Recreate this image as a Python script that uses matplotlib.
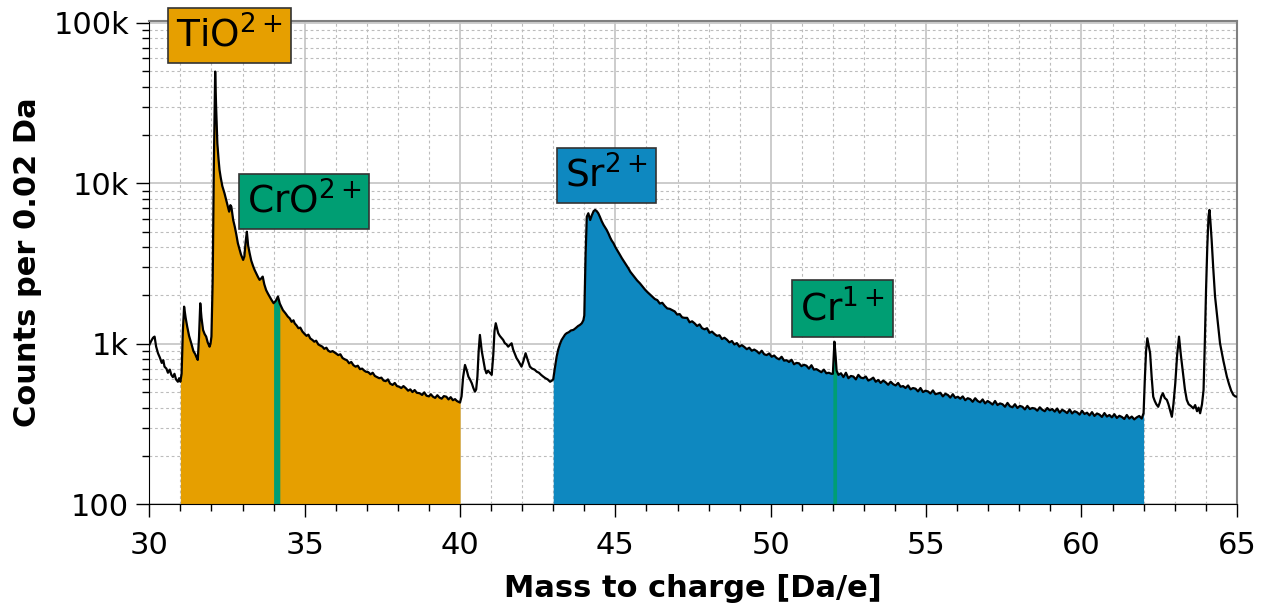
#importar pacotes
import numpy as np
import matplotlib
matplotlib.use('Agg')
import matplotlib.pyplot as plt
from matplotlib.ticker import FixedLocator, MultipleLocator, NullFormatter

#dados lidos do espectro (massa/carga, contagens)
#trecho 30-40 Da (pico TiO2+ e CrO2+)
mz_ti = [30.00, 30.06, 30.12, 30.17, 30.22, 30.28, 30.34, 30.40, 30.45, 30.49,
         30.55, 30.60, 30.66, 30.71, 30.76, 30.81, 30.86, 30.92, 30.96, 31.00,
         31.04, 31.08, 31.12, 31.17, 31.22, 31.28, 31.35, 31.42, 31.48, 31.51,
         31.56, 31.60, 31.64, 31.68, 31.73, 31.78, 31.83, 31.88, 31.94, 31.97,
         32.00, 32.04, 32.08, 32.12, 32.15, 32.19, 32.23, 32.26, 32.30, 32.35,
         32.42, 32.48, 32.53, 32.57, 32.61, 32.64, 32.70, 32.75, 32.80, 32.85,
         32.90, 32.95, 33.02, 33.06, 33.10, 33.14, 33.18, 33.23, 33.28, 33.34,
         33.39, 33.44, 33.50, 33.55, 33.60, 33.65, 33.70, 33.76, 33.82, 33.87,
         33.93, 34.00, 34.07, 34.14, 34.20, 34.25, 34.30, 34.38, 34.46, 34.52,
         34.58, 34.64, 34.68, 34.74, 34.80, 34.86, 34.93, 35.00, 35.06, 35.12,
         35.18, 35.25, 35.31, 35.37, 35.44, 35.50, 35.57, 35.63, 35.70, 35.76,
         35.83, 35.90, 36.00, 36.08, 36.15, 36.22, 36.29, 36.36, 36.43, 36.50,
         36.57, 36.64, 36.71, 36.78, 36.85, 36.92, 36.97, 37.05, 37.12, 37.19,
         37.26, 37.33, 37.40, 37.47, 37.54, 37.61, 37.68, 37.75, 37.83, 37.90,
         37.97, 38.04, 38.11, 38.18, 38.26, 38.33, 38.40, 38.47, 38.54, 38.61,
         38.70, 38.78, 38.85, 38.92, 39.00, 39.06, 39.13, 39.20, 39.27, 39.34,
         39.41, 39.48, 39.56, 39.63, 39.70, 39.77, 39.84, 39.90, 39.94, 40.00]
cts_ti = [983, 1040, 1090, 1108, 960, 873, 820, 760, 790, 720,
          700, 660, 690, 640, 620, 650, 600, 580, 610, 580,
          650, 1200, 1703, 1450, 1278, 1120, 1007, 900, 860, 831,
          793, 1100, 1787, 1450, 1219, 1150, 1108, 1020, 959, 1000,
          1108, 2500, 14000, 49600, 30000, 17700, 14000, 12100, 10800, 9600,
          8660, 7800, 7150, 6650, 7300, 7150, 5900, 5370, 4800, 4230,
          3900, 3600, 3330, 3500, 4300, 4990, 4100, 3660, 3300, 3050,
          2880, 2750, 2600, 2500, 2550, 2620, 2350, 2160, 2050, 1970,
          1880, 1790, 1850, 1970, 1780, 1700, 1620, 1550, 1475, 1440,
          1370, 1400, 1340, 1300, 1250, 1260, 1190, 1150, 1120, 1140,
          1080, 1056, 1030, 1045, 990, 975, 959, 930, 945, 905,
          890, 900, 873, 850, 860, 815, 800, 790, 756, 770,
          735, 720, 730, 695, 700, 680, 670, 665, 645, 660,
          630, 620, 610, 615, 590, 585, 600, 565, 554, 570,
          545, 540, 530, 545, 528, 510, 520, 500, 515, 495,
          492, 480, 498, 475, 470, 485, 468, 460, 478, 462,
          455, 472, 468, 450, 465, 445, 452, 440, 436, 430]

#trecho 40-43 Da (sem identificacao)
mz_mid = [40.05, 40.10, 40.16, 40.22, 40.27, 40.32, 40.38, 40.43, 40.48, 40.52,
          40.56, 40.60, 40.64, 40.70, 40.75, 40.80, 40.85, 40.90, 40.96, 41.02,
          41.07, 41.11, 41.15, 41.19, 41.23, 41.28, 41.33, 41.39, 41.44, 41.50,
          41.55, 41.60, 41.66, 41.71, 41.77, 41.82, 41.88, 41.93, 41.98, 42.04,
          42.11, 42.18, 42.25, 42.32, 42.40, 42.47, 42.54, 42.61, 42.68, 42.75,
          42.82, 42.90, 42.96]
cts_mid = [470, 620, 738, 680, 624, 600, 567, 530, 503, 520,
           624, 900, 1135, 900, 793, 700, 655, 680, 660, 640,
           850, 1200, 1342, 1250, 1163, 1120, 1090, 1056, 1010, 990,
           959, 980, 1007, 920, 860, 813, 780, 750, 720, 780,
           873, 790, 720, 700, 690, 670, 660, 640, 624, 610,
           600, 580, 590]

#trecho 43-62 Da (pico Sr2+ e Cr1+)
mz_sr = [43.00, 43.05, 43.11, 43.16, 43.22, 43.27, 43.33, 43.38, 43.43, 43.50,
         43.57, 43.65, 43.72, 43.80, 43.86, 43.92, 43.97, 44.00, 44.04, 44.08,
         44.13, 44.19, 44.24, 44.30, 44.35, 44.40, 44.45, 44.50, 44.56, 44.62,
         44.67, 44.72, 44.78, 44.83, 44.88, 44.94, 45.00, 45.07, 45.14, 45.21,
         45.28, 45.35, 45.42, 45.48, 45.55, 45.62, 45.70, 45.79, 45.87, 45.95,
         46.03, 46.11, 46.19, 46.27, 46.35, 46.43, 46.51, 46.59, 46.67, 46.75,
         46.83, 46.91, 46.99, 47.07, 47.15, 47.23, 47.31, 47.39, 47.47, 47.55,
         47.63, 47.71, 47.79, 47.87, 47.95, 48.03, 48.11, 48.19, 48.27, 48.35,
         48.43, 48.51, 48.59, 48.67, 48.75, 48.83, 48.91, 48.99, 49.07, 49.15,
         49.23, 49.31, 49.39, 49.47, 49.55, 49.63, 49.71, 49.79, 49.87, 49.95,
         50.03, 50.11, 50.19, 50.27, 50.35, 50.43, 50.51, 50.59, 50.67, 50.75,
         50.83, 50.91, 50.99, 51.07, 51.15, 51.23, 51.31, 51.39, 51.47, 51.55,
         51.63, 51.71, 51.79, 51.87, 51.95, 52.00, 52.03, 52.05, 52.08, 52.12,
         52.18, 52.26, 52.34, 52.42, 52.50, 52.58, 52.66, 52.74, 52.82, 52.90,
         52.98, 53.06, 53.14, 53.22, 53.30, 53.38, 53.46, 53.54, 53.62, 53.70,
         53.78, 53.86, 53.94, 54.02, 54.10, 54.18, 54.26, 54.34, 54.42, 54.50,
         54.58, 54.66, 54.74, 54.82, 54.90, 54.98, 55.06, 55.14, 55.22, 55.30,
         55.38, 55.46, 55.54, 55.62, 55.70, 55.78, 55.86, 55.94, 56.02, 56.10,
         56.18, 56.26, 56.34, 56.42, 56.50, 56.58, 56.66, 56.74, 56.82, 56.90,
         56.98, 57.06, 57.14, 57.22, 57.30, 57.38, 57.46, 57.54, 57.62, 57.70,
         57.78, 57.86, 57.94, 58.02, 58.10, 58.18, 58.26, 58.34, 58.42, 58.50,
         58.58, 58.66, 58.74, 58.82, 58.90, 58.98, 59.06, 59.14, 59.22, 59.30,
         59.38, 59.46, 59.54, 59.62, 59.70, 59.78, 59.86, 59.94, 60.02, 60.10,
         60.18, 60.26, 60.34, 60.42, 60.50, 60.58, 60.66, 60.74, 60.82, 60.90,
         60.98, 61.06, 61.14, 61.22, 61.30, 61.38, 61.46, 61.54, 61.62, 61.70,
         61.78, 61.86, 61.94, 62.00]
cts_sr = [600, 700, 831, 920, 1000, 1056, 1100, 1140, 1163, 1180,
          1210, 1220, 1250, 1290, 1310, 1342, 1400, 1500, 3500, 6190,
          6500, 5900, 6300, 6700, 6820, 6700, 6500, 6190, 5800, 5500,
          5300, 5120, 4850, 4600, 4400, 4230, 4000, 3800, 3600, 3410,
          3250, 3100, 2950, 2810, 2700, 2600, 2480, 2380, 2280, 2180,
          2100, 2030, 1960, 1900, 1870, 1780, 1800, 1720, 1660, 1650,
          1620, 1590, 1520, 1530, 1460, 1450, 1450, 1360, 1380, 1340,
          1290, 1320, 1250, 1230, 1250, 1170, 1190, 1150, 1120, 1130,
          1070, 1090, 1060, 1020, 1040, 990, 1010, 960, 980, 955,
          925, 945, 905, 920, 900, 870, 905, 860, 850, 870,
          830, 845, 815, 800, 830, 785, 790, 770, 795, 745,
          760, 755, 725, 740, 730, 700, 735, 690, 695, 680,
          665, 690, 655, 660, 650, 650, 850, 1030, 880, 680,
          640, 655, 620, 660, 610, 630, 625, 600, 640, 615,
          610, 625, 590, 600, 615, 580, 595, 570, 590, 575,
          555, 580, 560, 550, 570, 540, 545, 530, 550, 520,
          530, 525, 505, 530, 500, 510, 505, 490, 512, 485,
          490, 495, 470, 488, 480, 462, 485, 460, 468, 455,
          470, 445, 458, 452, 435, 458, 440, 432, 450, 425,
          440, 430, 418, 440, 415, 425, 420, 405, 428, 408,
          402, 420, 398, 410, 405, 390, 410, 392, 398, 395,
          383, 402, 388, 380, 398, 385, 392, 378, 395, 372,
          388, 380, 370, 390, 368, 380, 374, 362, 382, 365,
          372, 358, 375, 355, 368, 362, 350, 370, 352, 360,
          348, 364, 345, 356, 350, 340, 360, 342, 352, 338,
          348, 355, 342, 370]

#trecho 62-65 Da
mz_end = [62.04, 62.08, 62.12, 62.16, 62.21, 62.26, 62.31, 62.36, 62.41, 62.47,
          62.52, 62.57, 62.62, 62.68, 62.75, 62.80, 62.86, 62.91, 62.96, 63.02,
          63.08, 63.14, 63.20, 63.28, 63.33, 63.39, 63.45, 63.52, 63.60, 63.66,
          63.72, 63.77, 63.82, 63.88, 63.93, 63.97, 64.01, 64.05, 64.09, 64.12,
          64.15, 64.19, 64.24, 64.30, 64.38, 64.46, 64.57, 64.68, 64.75, 64.82,
          64.89, 64.95, 65.00]
cts_end = [600, 900, 1082, 980, 873, 620, 468, 440, 420, 405,
           430, 470, 492, 460, 447, 420, 380, 351, 420, 567,
           850, 1108, 850, 624, 520, 447, 420, 410, 396, 415,
           380, 400, 369, 420, 515, 1000, 2160, 4000, 6200, 6820,
           5800, 4440, 3000, 1970, 1400, 1007, 780, 624, 560, 510,
           480, 470, 468]

#faixas coloridas (inicio, fim, cor)
faixas = [(31.0, 40.0, '#E69F00'), (34.0, 34.2, '#009E73'),
          (43.0, 62.0, '#0E88C0'), (52.0, 52.12, '#009E73')]
#rotulos (texto, x, y, cor)
rotulos = [('TiO$^{2+}$', 32.57, 83400, '#E69F00'),
           ('CrO$^{2+}$', 34.98, 7710, '#009E73'),
           ('Sr$^{2+}$', 44.70, 11200, '#0E88C0'),
           ('Cr$^{1+}$', 52.31, 1660, '#009E73')]

x = np.array(mz_ti + mz_mid + mz_sr + mz_end)
y = np.array(cts_ti + cts_mid + cts_sr + cts_end, dtype=float)

#criar figura
fig = plt.figure(figsize=(12.66, 6.11), dpi=100)
ax = fig.add_axes([149.3/1266, 1-504.3/611, 1087.5/1266, 483.6/611])
ax.set_yscale('log')
ax.set_xlim(30, 65)
ax.set_ylim(100, 1.029e5)

#grade
ax.xaxis.set_major_locator(MultipleLocator(5))
ax.xaxis.set_minor_locator(MultipleLocator(1))
ax.yaxis.set_major_locator(FixedLocator([100, 1000, 10000, 100000]))
ax.yaxis.set_minor_locator(FixedLocator([m * d for d in [100, 1000, 10000] for m in range(2, 10)]))
ax.yaxis.set_minor_formatter(NullFormatter())
ax.set_yticklabels(['100', '1k', '10k', '100k'])
ax.grid(which='major', color='#c8c8c8', linewidth=1.3, linestyle='-')
ax.grid(which='minor', color='#bcbcbc', linewidth=0.8, linestyle=(0, (2.5, 2.5)))
ax.set_axisbelow(True)
ax.tick_params(which='major', direction='out', length=9.5, width=1, labelsize=22, pad=5)
ax.tick_params(which='minor', direction='out', length=5, width=1)
ax.tick_params(axis='x', which='major', pad=10)
for s in ['top', 'right']:
    ax.spines[s].set_color('#808080')
    ax.spines[s].set_linewidth(1.5)

#preenchimentos
for a, b, cor in faixas:
    m = (x >= a) & (x <= b)
    ax.fill_between(x, 50, y, where=m, color=cor, linewidth=0, zorder=2)

#espectro
ax.plot(x, y, color='black', linewidth=1.6, zorder=3)

#rotulos dos picos
for txt, xr, yr, cor in rotulos:
    ax.text(xr, yr, txt, ha='center', va='center', fontsize=27, zorder=5,
            bbox=dict(boxstyle='square,pad=0.22', facecolor=cor,
                      edgecolor='#333333', linewidth=1.2))

#nomes nos eixos
ax.set_xlabel('Mass to charge [Da/e]', fontsize=22, fontweight='bold', labelpad=10)
ax.set_ylabel('Counts per 0.02 Da', fontsize=22, fontweight='bold', labelpad=8)

#salvar a figura
fig.savefig('out.png', dpi=100)
